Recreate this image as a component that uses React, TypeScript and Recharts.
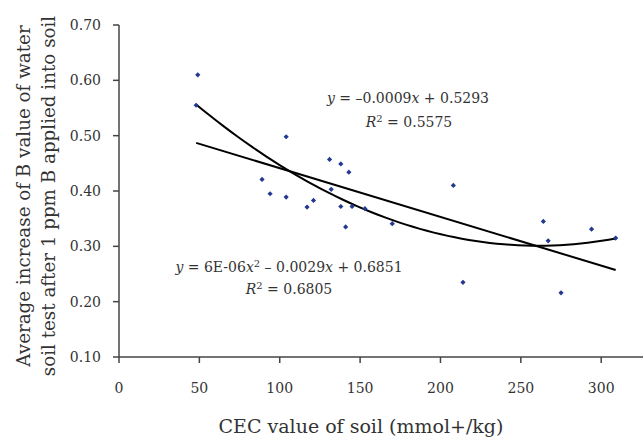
import React from "react";
import { ScatterChart, Scatter, XAxis, YAxis, Label } from "recharts";

// CEC value of soil (mmol+/kg)
const cecValues = [49, 48, 104, 89, 94, 104, 117, 121, 131, 138, 143, 132, 138, 145, 153, 141, 208, 170, 264, 294, 267, 309, 214, 275];
// average increase of B value after 1 ppm B
const bIncrease = [0.61, 0.555, 0.498, 0.421, 0.395, 0.389, 0.371, 0.383, 0.457, 0.449, 0.434, 0.403, 0.372, 0.372, 0.368, 0.335, 0.41, 0.341, 0.345, 0.331, 0.31, 0.315, 0.235, 0.216];

const xTicks = [0, 50, 100, 150, 200, 250, 300];
const yTicks = [0.1, 0.2, 0.3, 0.4, 0.5, 0.6, 0.7];

const FONT = "'DejaVu Serif', serif";
const TEXT = "#333";
const AXIS = "#444";

const points = cecValues.map((x, i) => ({ x, y: bIncrease[i] }));

// least squares fits of the scatter
function linearFit(xs: number[], ys: number[]) {
  const n = xs.length;
  const mx = xs.reduce((s, v) => s + v, 0) / n;
  const my = ys.reduce((s, v) => s + v, 0) / n;
  let sxy = 0, sxx = 0;
  xs.forEach((x, i) => {
    sxy += (x - mx) * (ys[i] - my);
    sxx += (x - mx) * (x - mx);
  });
  const slope = sxy / sxx;
  return [slope, my - slope * mx];
}

function det3(m: number[][]) {
  return (
    m[0][0] * (m[1][1] * m[2][2] - m[1][2] * m[2][1]) -
    m[0][1] * (m[1][0] * m[2][2] - m[1][2] * m[2][0]) +
    m[0][2] * (m[1][0] * m[2][1] - m[1][1] * m[2][0])
  );
}

function quadFit(xs: number[], ys: number[]) {
  const s = [0, 0, 0, 0, 0];
  const t = [0, 0, 0];
  xs.forEach((x, i) => {
    for (let k = 0; k < 5; k++) s[k] += Math.pow(x, k);
    for (let k = 0; k < 3; k++) t[k] += Math.pow(x, k) * ys[i];
  });
  // unknowns c, b, a
  const M = [
    [s[0], s[1], s[2]],
    [s[1], s[2], s[3]],
    [s[2], s[3], s[4]],
  ];
  const D = det3(M);
  const res = [0, 1, 2].map((col) => {
    const Mi = M.map((row, r) => row.map((v, c) => (c === col ? t[r] : v)));
    return det3(Mi) / D;
  });
  return res; // [c, b, a]
}

const [slope, intercept] = linearFit(cecValues, bIncrease);
const [qc, qb, qa] = quadFit(cecValues, bIncrease);
const xMin = Math.min(...cecValues);
const xMax = Math.max(...cecValues);

const linearLine = [xMin, xMax].map((x) => ({ x, y: slope * x + intercept }));
const quadLine = Array.from({ length: 61 }, (_, i) => {
  const x = xMin + ((xMax - xMin) * i) / 60;
  return { x, y: qa * x * x + qb * x + qc };
});

const Diamond = (props: any) => {
  const { cx, cy } = props;
  const r = 2.6;
  return <path d={`M${cx},${cy - r}L${cx + r},${cy}L${cx},${cy + r}L${cx - r},${cy}Z`} fill="#23398f" />;
};

const NoDot = () => <g />;

const XTitle = (props: any) => {
  const { viewBox } = props;
  const cx = viewBox.x + viewBox.width / 2 - 20;
  return (
    <text x={cx} y={viewBox.y + 76} textAnchor="middle" fill={TEXT} fontFamily={FONT} fontSize={19}>
      CEC value of soil (mmol+/kg)
    </text>
  );
};

const YTitle = (props: any) => {
  const { viewBox } = props;
  const cy = viewBox.y + viewBox.height / 2 + 5;
  return (
    <g fill={TEXT} fontFamily={FONT} fontSize={18.3}>
      <text x={30} y={cy} textAnchor="middle" transform={`rotate(-90 30 ${cy})`}>
        Average increase of B value of water
      </text>
      <text x={55} y={cy} textAnchor="middle" transform={`rotate(-90 55 ${cy})`}>
        soil test after 1 ppm B applied into soil
      </text>
    </g>
  );
};

export default function App() {
  return (
    <div style={{ position: "absolute", left: 0, top: 0, width: 644, height: 441, background: "#fff" }}>
      <ScatterChart width={644} height={441} margin={{ top: 25, right: 1, bottom: 0, left: 0 }}>
        <XAxis
          type="number"
          dataKey="x"
          domain={[0, 326]}
          ticks={xTicks}
          allowDataOverflow
          height={84}
          axisLine={{ stroke: AXIS, strokeWidth: 1.5 }}
          tickLine={{ stroke: AXIS, strokeWidth: 1.5 }}
          tickSize={6}
          tickMargin={20}
          tick={{ fill: TEXT, fontSize: 14, fontFamily: FONT }}
        >
          <Label content={<XTitle />} />
        </XAxis>
        <YAxis
          type="number"
          dataKey="y"
          domain={[0.1, 0.7]}
          ticks={yTicks}
          allowDataOverflow
          width={119}
          axisLine={{ stroke: AXIS, strokeWidth: 1.5 }}
          tickLine={{ stroke: AXIS, strokeWidth: 1.5 }}
          tickSize={6}
          tickMargin={12}
          tickFormatter={(v: number) => v.toFixed(2)}
          tick={{ fill: TEXT, fontSize: 14, fontFamily: FONT }}
        >
          <Label content={<YTitle />} />
        </YAxis>
        <Scatter data={linearLine} line={{ stroke: "#000", strokeWidth: 2 }} shape={<NoDot />} isAnimationActive={false} />
        <Scatter data={quadLine} line={{ stroke: "#000", strokeWidth: 2 }} shape={<NoDot />} isAnimationActive={false} />
        <Scatter data={points} shape={<Diamond />} isAnimationActive={false} />
      </ScatterChart>
      <svg
        width={644}
        height={441}
        style={{ position: "absolute", left: 0, top: 0, pointerEvents: "none" }}
        fontFamily={FONT}
        fontSize={14}
        fill={TEXT}
      >
        <text x={408} y={103} textAnchor="middle">
          <tspan fontStyle="italic">y</tspan> = –0.0009<tspan fontStyle="italic">x</tspan> + 0.5293
        </text>
        <text x={409} y={127} textAnchor="middle">
          <tspan fontStyle="italic">R</tspan>
          <tspan fontSize={10} dy={-5}>2</tspan>
          <tspan dy={5}> = 0.5575</tspan>
        </text>
        <text x={289} y={272} textAnchor="middle">
          <tspan fontStyle="italic">y</tspan> = 6E-06<tspan fontStyle="italic">x</tspan>
          <tspan fontSize={10} dy={-5}>2</tspan>
          <tspan dy={5}> – 0.0029</tspan>
          <tspan fontStyle="italic">x</tspan> + 0.6851
        </text>
        <text x={289} y={294} textAnchor="middle">
          <tspan fontStyle="italic">R</tspan>
          <tspan fontSize={10} dy={-5}>2</tspan>
          <tspan dy={5}> = 0.6805</tspan>
        </text>
      </svg>
    </div>
  );
}
